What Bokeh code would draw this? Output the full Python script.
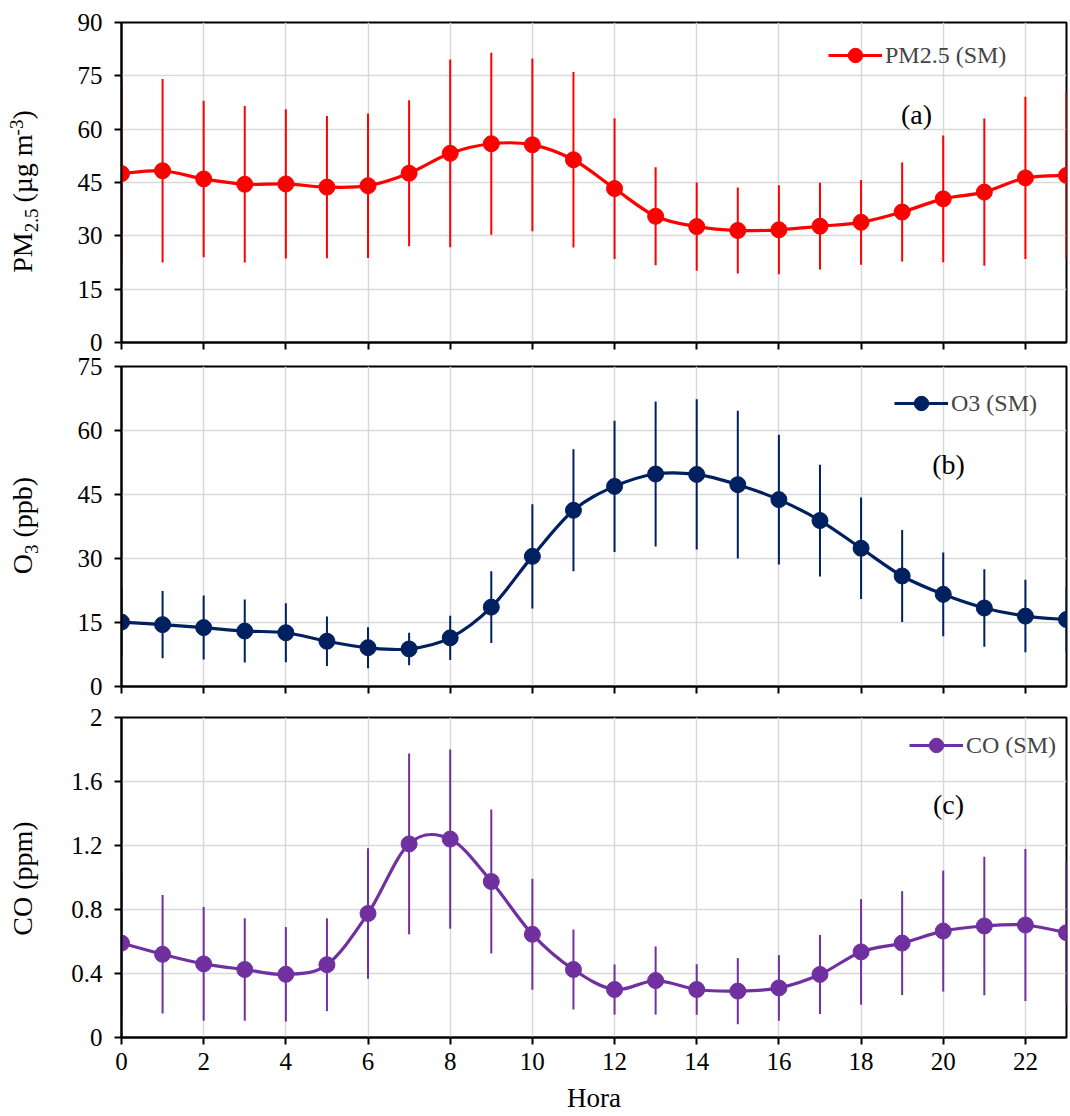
import math
from bokeh.plotting import figure
from bokeh.models import (Range1d, FixedTicker, Label, Legend, LegendItem,
                          CustomJSTickFormatter)
from bokeh.layouts import column, row
from bokeh.embed import file_html
from bokeh.resources import INLINE

# ---------------- data ----------------
hours = list(range(24))
x_tick_values = list(range(0, 23, 2))

pm25_mean = [47.5, 48.3, 46.0, 44.5, 44.6, 43.7, 44.1, 47.6, 53.2, 55.9, 55.6, 51.4,
             43.3, 35.5, 32.6, 31.5, 31.7, 32.7, 33.8, 36.7, 40.4, 42.3, 46.3, 47.0]
pm25_sd = [25.0, 25.8, 22.0, 22.0, 21.0, 20.0, 20.3, 20.5, 26.4, 25.6, 24.3, 24.7,
           19.8, 13.8, 12.4, 12.1, 12.5, 12.2, 11.9, 13.9, 17.8, 20.7, 22.8, 23.4]
pm25_ticks = [0, 15, 30, 45, 60, 75, 90]

o3_mean = [15.1, 14.5, 13.8, 13.0, 12.6, 10.6, 9.1, 8.8, 11.4, 18.6, 30.5, 41.3,
           46.9, 49.8, 49.7, 47.3, 43.8, 38.9, 32.4, 25.9, 21.6, 18.4, 16.5, 15.7]
o3_sd = [8.0, 7.9, 7.5, 7.4, 6.9, 5.8, 4.8, 3.8, 5.2, 8.4, 12.2, 14.3,
         15.4, 17.0, 17.6, 17.3, 15.2, 13.1, 11.9, 10.8, 9.8, 9.1, 8.5, 7.7]
o3_ticks = [0, 15, 30, 45, 60, 75]

co_mean = [0.59, 0.52, 0.46, 0.425, 0.395, 0.455, 0.775, 1.21, 1.24, 0.975, 0.645, 0.425,
           0.30, 0.356, 0.30, 0.29, 0.31, 0.394, 0.535, 0.59, 0.665, 0.697, 0.703, 0.655]
co_sd = [0.43, 0.37, 0.355, 0.32, 0.295, 0.29, 0.408, 0.565, 0.56, 0.45, 0.347, 0.25,
         0.157, 0.213, 0.158, 0.207, 0.205, 0.247, 0.33, 0.325, 0.378, 0.433, 0.475, 0.45]
co_ticks = [0, 0.4, 0.8, 1.2, 1.6, 2.0]

FONT = "Liberation Serif"
GRID = "#D9D9D9"
LABEL_W = 60          # width of the strip holding the rotated y-axis titles

# Times New Roman advance widths (em) for label composition
TW = {"P": .556, "M": .889, "2": .5, ".": .25, "5": .5, " ": .25, "(": .333, "µ": .5,
      "g": .5, "m": .778, "-": .333, "3": .5, ")": .333, "O": .722, "p": .5, "b": .5,
      "C": .667}


def text_w(s, size):
    return sum(TW.get(c, .5) for c in s) * size


def smooth_controls(xs, ys):
    n = len(xs)
    out = {k: [] for k in ("x0", "y0", "x1", "y1", "cx0", "cy0", "cx1", "cy1")}
    for i in range(n - 1):
        a = i - 1 if i > 0 else i
        d = i + 2 if i + 2 < n else i + 1
        out["x0"].append(xs[i]); out["y0"].append(ys[i])
        out["x1"].append(xs[i + 1]); out["y1"].append(ys[i + 1])
        out["cx0"].append(xs[i] + (xs[i + 1] - xs[a]) / 6.0)
        out["cy0"].append(ys[i] + (ys[i + 1] - ys[a]) / 6.0)
        out["cx1"].append(xs[i + 1] - (xs[d] - xs[i]) / 6.0)
        out["cy1"].append(ys[i + 1] - (ys[d] - ys[i]) / 6.0)
    return out


def title_strip(total_h, bottom, pieces, lift=13):
    s = figure(title=None, frame_width=LABEL_W, frame_height=total_h,
               x_range=Range1d(0, LABEL_W), y_range=Range1d(0, total_h),
               output_backend="svg", toolbar_location=None,
               x_axis_location=None, y_axis_location=None,
               min_border_left=0, min_border_right=0, min_border_top=0,
               min_border_bottom=0)
    s.outline_line_color = None
    s.grid.visible = False
    s.background_fill_color = "white"
    s.border_fill_color = "white"
    big, small = 28, 19
    sizes = [big if k == "n" else small for _, k, _ in pieces]
    widths = [text_w(t, sz) for (t, _, _), sz in zip(pieces, sizes)]
    gaps = [g * big for _, _, g in pieces]
    total = sum(widths) + sum(gaps)
    ycur = bottom + 160 - total / 2.0 + lift
    base_x = 32                      # baseline position of the rotated title
    for (t, k, _), w, g, sz in zip(pieces, widths, gaps, sizes):
        ycur += g
        shift = 0 if k == "n" else (5 if k == "sub" else -10)
        cx = base_x + shift - 0.34 * sz      # middle of the em box
        s.add_layout(Label(x=cx, y=ycur + w / 2.0, x_units="screen", y_units="screen",
                           text=t, angle=math.pi / 2, text_align="center",
                           text_baseline="middle", text_font=FONT,
                           text_font_size=f"{sz}px", text_color="black"))
        ycur += w
    return s


def make_panel(mean, sd, color, ticks, top, bottom, legend_text, legend_loc,
               letter, letter_pos, show_x_labels):
    p = figure(title=None, frame_width=945, frame_height=320,
               x_range=Range1d(0, 23), y_range=Range1d(ticks[0], ticks[-1]),
               output_backend="svg", toolbar_location=None,
               min_border_left=121 - LABEL_W, min_border_right=4,
               min_border_top=top, min_border_bottom=bottom)
    p.background_fill_color = "white"
    p.border_fill_color = "white"
    p.outline_line_color = "black"
    p.outline_line_width = 2

    xa = p.xaxis[0]
    ya = p.yaxis[0]
    xa.ticker = FixedTicker(ticks=x_tick_values)
    ya.ticker = FixedTicker(ticks=ticks)
    for ax in (xa, ya):
        ax.axis_line_color = "black"
        ax.axis_line_width = 2
        ax.major_tick_line_color = "black"
        ax.major_tick_line_width = 2
        ax.major_tick_out = 7
        ax.major_tick_in = 0
        ax.minor_tick_out = 0
        ax.minor_tick_in = 0
        ax.major_label_text_font = FONT
        ax.major_label_text_font_style = "normal"
        ax.major_label_text_color = "black"
        ax.major_label_text_font_size = "25px"
    ya.major_label_standoff = 12
    ya.formatter = CustomJSTickFormatter(
        code="return (Math.round(tick*10)/10).toString();")
    if show_x_labels:
        xa.major_label_standoff = 8
        xa.axis_label = "Hora"
        xa.axis_label_text_font = FONT
        xa.axis_label_text_font_size = "27px"
        xa.axis_label_text_font_style = "normal"
        xa.axis_label_text_color = "black"
        xa.axis_label_standoff = 10
    else:
        # tick marks only, no tick labels (as in the upper panels of the reference)
        xa.formatter = CustomJSTickFormatter(code="return '';")
        xa.major_label_text_font_size = "0px"
        xa.major_label_standoff = 0

    p.xgrid.ticker = FixedTicker(ticks=x_tick_values)
    p.ygrid.ticker = FixedTicker(ticks=ticks)
    p.xgrid.grid_line_color = GRID
    p.ygrid.grid_line_color = GRID
    p.xgrid.grid_line_width = 1.5
    p.ygrid.grid_line_width = 1.5

    lo = [m - s for m, s in zip(mean, sd)]
    hi = [m + s for m, s in zip(mean, sd)]
    p.segment(x0=hours, y0=lo, x1=hours, y1=hi, line_color=color, line_width=2)
    c = smooth_controls(hours, mean)
    p.bezier(line_color=color, line_width=3.2, line_cap="round", **c)
    sc = p.scatter(hours, mean, size=16, fill_color=color, line_color=color)

    # legend swatch line (holds no visible data)
    swatch = p.line(x=[float("nan")], y=[float("nan")], line_color=color, line_width=3.2)
    leg = Legend(items=[LegendItem(label=legend_text, renderers=[swatch, sc])],
                 location=legend_loc, glyph_width=54, glyph_height=36,
                 label_text_font=FONT, label_text_font_size="24px",
                 label_standoff=3, padding=0, margin=0, spacing=0,
                 border_line_color=None, background_fill_alpha=0)
    p.add_layout(leg)

    p.add_layout(Label(x=letter_pos[0], y=letter_pos[1], x_units="screen",
                       y_units="screen", text=letter, text_align="center",
                       text_baseline="middle", text_font=FONT,
                       text_font_size="28px", text_color="black"))
    return p


tops = [22, 12, 14]
bottoms = [12, 17, 79]

p1 = make_panel(pm25_mean, pm25_sd, "#FF0000", pm25_ticks, tops[0], bottoms[0],
                "PM2.5 (SM)", (707, 269), "(a)", (795, 228), False)
p2 = make_panel(o3_mean, o3_sd, "#002060", o3_ticks, tops[1], bottoms[1],
                "O3 (SM)", (773, 265), "(b)", (827, 222), False)
p3 = make_panel(co_mean, co_sd, "#7030A0", co_ticks, tops[2], bottoms[2],
                "CO (SM)", (788, 274), "(c)", (827, 233), True)

s1 = title_strip(tops[0] + 320 + bottoms[0], bottoms[0],
                 [("PM", "n", 0), ("2.5", "sub", 0), ("(µg m", "n", 0.25),
                  ("-3", "sup", 0), (")", "n", 0)])
s2 = title_strip(tops[1] + 320 + bottoms[1], bottoms[1],
                 [("O", "n", 0), ("3", "sub", 0), ("(ppb)", "n", 0.25)])
s3 = title_strip(tops[2] + 320 + bottoms[2], bottoms[2],
                 [("CO (ppm)", "n", 0)])

layout = column(row(s1, p1, spacing=0), row(s2, p2, spacing=0),
                row(s3, p3, spacing=0), spacing=0)
open("out.html", "w").write(file_html(layout, INLINE))
